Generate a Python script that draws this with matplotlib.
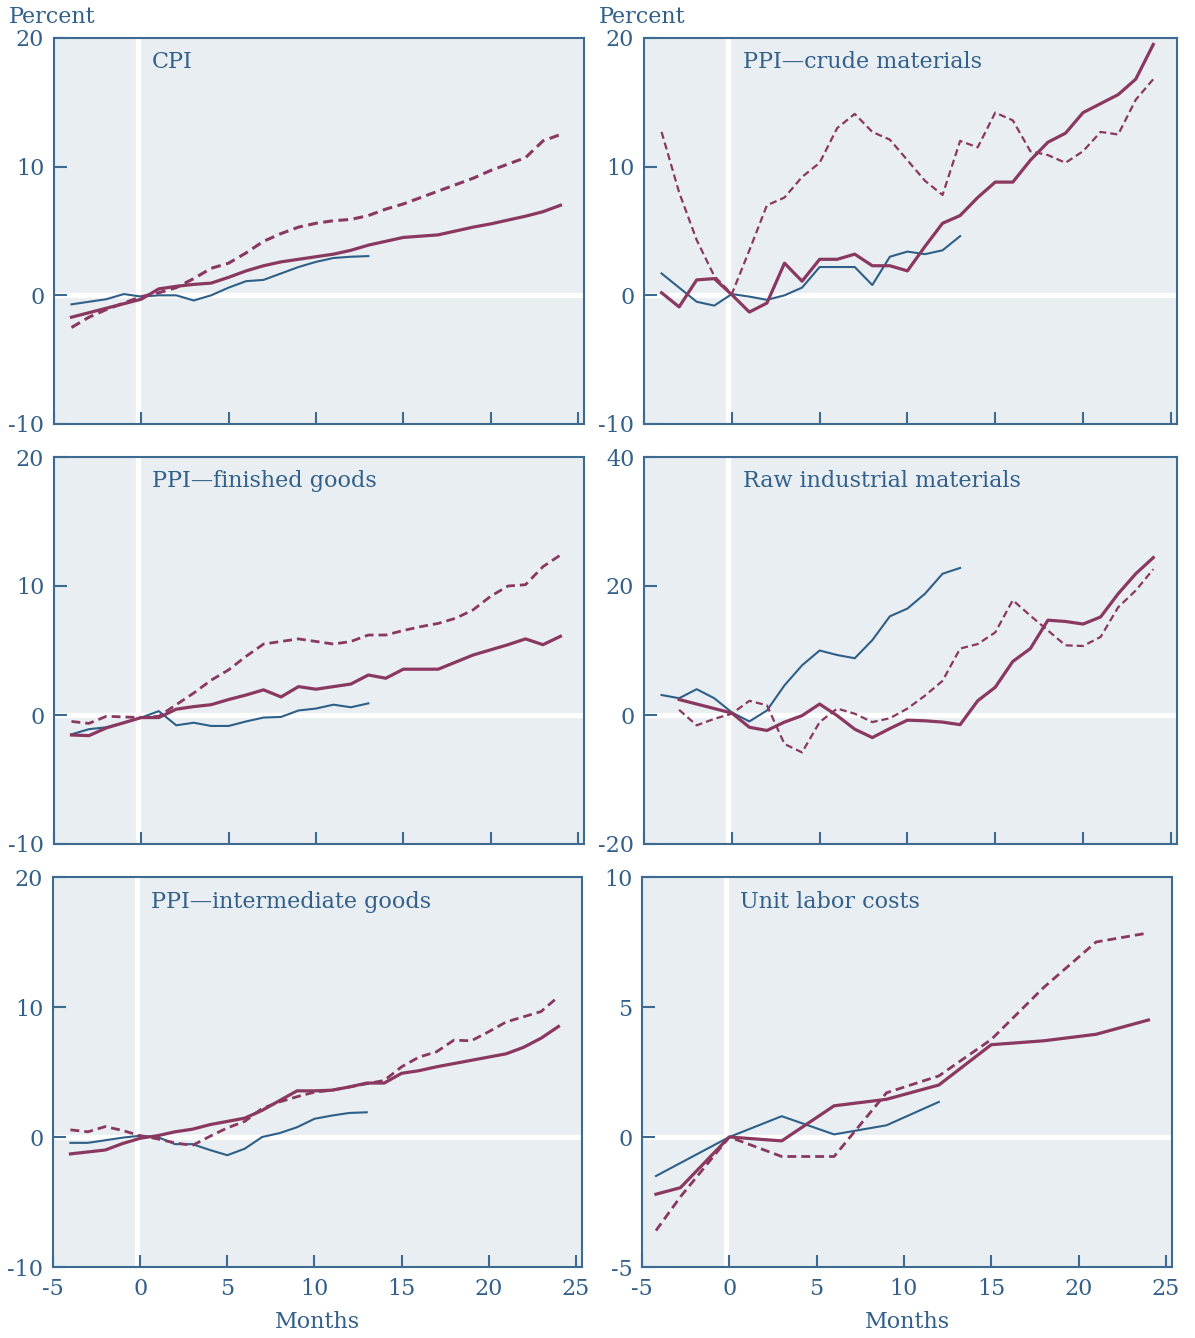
import numpy as np
import matplotlib
matplotlib.use("Agg")
import matplotlib.pyplot as plt

# ---------------------------------------------------------------------------
# Data: cumulative percent change, months relative to the reference month (0)
# ---------------------------------------------------------------------------
months_red = list(range(-4, 25))
months_blue = list(range(-4, 14))
months_raw_red = list(range(-3, 25))
quarters_ulc = [-4.2, -2.8, 0, 3, 6, 9, 12, 15, 18, 21, 24]
quarters_ulc_blue = [-4.2, -2.8, 0, 3, 6, 9, 12]

# CPI
cpi_solid = [-1.7, -1.35, -1.0, -0.65, -0.3, 0.5, 0.7, 0.85, 0.95, 1.4, 1.9, 2.3, 2.6,
             2.8, 3.0, 3.2, 3.5, 3.9, 4.2, 4.5, 4.6, 4.7, 5.0, 5.3, 5.55, 5.85, 6.15,
             6.5, 7.0]
cpi_dashed = [-2.5, -1.7, -1.1, -0.6, -0.1, 0.2, 0.6, 1.3, 2.1, 2.5, 3.3, 4.2, 4.8, 5.3,
              5.6, 5.8, 5.9, 6.2, 6.7, 7.1, 7.6, 8.1, 8.6, 9.1, 9.7, 10.2, 10.7, 12.0,
              12.5]
cpi_blue = [-0.7, -0.5, -0.3, 0.1, -0.1, 0.0, 0.0, -0.4, 0.0, 0.6, 1.1, 1.2, 1.7, 2.2,
            2.6, 2.9, 3.0, 3.05]

# PPI - crude materials
crude_solid = [0.2, -0.9, 1.2, 1.3, 0.05, -1.3, -0.6, 2.5, 1.1, 2.8, 2.8, 3.2, 2.3, 2.3,
               1.9, 3.8, 5.6, 6.2, 7.6, 8.8, 8.8, 10.5, 11.9, 12.6, 14.2, 14.9, 15.6,
               16.8, 19.5]
crude_dashed = [12.7, 8.0, 4.3, 1.5, 0.1, 3.5, 7.0, 7.6, 9.2, 10.3, 13.0, 14.1, 12.7,
                12.1, 10.5, 8.9, 7.8, 12.0, 11.5, 14.2, 13.6, 11.2, 10.9, 10.3, 11.2,
                12.7, 12.5, 15.2, 16.8]
crude_blue = [1.7, 0.6, -0.5, -0.8, 0.1, -0.1, -0.35, 0.0, 0.6, 2.2, 2.2, 2.2, 0.8, 3.0,
              3.4, 3.2, 3.5, 4.6]

# PPI - finished goods
fin_solid = [-1.55, -1.6, -1.0, -0.6, -0.2, -0.2, 0.45, 0.65, 0.8, 1.2, 1.55, 1.95, 1.4,
             2.2, 2.0, 2.2, 2.4, 3.1, 2.85, 3.55, 3.55, 3.55, 4.1, 4.65, 5.05, 5.45,
             5.9, 5.45, 6.1]
fin_dashed = [-0.5, -0.65, -0.1, -0.15, -0.2, -0.1, 0.8, 1.7, 2.7, 3.5, 4.55, 5.5, 5.7,
              5.9, 5.7, 5.5, 5.7, 6.2, 6.2, 6.55, 6.85, 7.1, 7.5, 8.15, 9.2, 10.0, 10.1,
              11.5, 12.4]
fin_blue = [-1.5, -1.1, -0.95, -0.6, -0.2, 0.3, -0.8, -0.6, -0.85, -0.85, -0.5, -0.2,
            -0.15, 0.35, 0.5, 0.8, 0.6, 0.9]

# Raw industrial materials
raw_solid = [2.4, 1.7, 1.0, 0.3, -1.9, -2.4, -1.1, -0.1, 1.7, -0.1, -2.2, -3.5, -2.1,
             -0.8, -0.9, -1.1, -1.5, 2.2, 4.3, 8.3, 10.3, 14.7, 14.5, 14.1, 15.2, 18.8,
             21.9, 24.4]
raw_dashed = [0.8, -1.6, -0.6, 0.2, 2.2, 1.5, -4.5, -5.8, -1.1, 1.0, 0.2, -1.1, -0.5,
              1.0, 3.0, 5.3, 10.3, 11.0, 12.8, 17.8, 15.4, 13.1, 10.8, 10.7, 12.1, 16.7,
              19.3, 22.6]
raw_blue = [3.1, 2.6, 4.0, 2.6, 0.4, -1.0, 0.7, 4.6, 7.7, 10.0, 9.3, 8.8, 11.6, 15.3,
            16.5, 18.8, 21.9, 22.8]

# PPI - intermediate goods
int_solid = [-1.3, -1.15, -1.0, -0.5, -0.1, 0.1, 0.4, 0.6, 0.95, 1.2, 1.45, 2.05, 2.8,
             3.55, 3.55, 3.6, 3.85, 4.15, 4.15, 4.9, 5.1, 5.4, 5.65, 5.9, 6.15, 6.4,
             6.9, 7.6, 8.5]
int_dashed = [0.55, 0.4, 0.8, 0.5, 0.1, -0.15, -0.45, -0.65, 0.05, 0.7, 1.2, 2.2, 2.7,
              3.1, 3.45, 3.6, 3.85, 4.1, 4.35, 5.4, 6.15, 6.55, 7.45, 7.4, 8.1, 8.85,
              9.25, 9.65, 10.8]
int_blue = [-0.45, -0.45, -0.25, -0.05, 0.1, 0.0, -0.55, -0.55, -1.0, -1.4, -0.9, 0.0,
            0.3, 0.75, 1.4, 1.65, 1.85, 1.9]

# Unit labor costs (quarterly)
ulc_solid = [-2.2, -1.95, 0.0, -0.15, 1.2, 1.45, 2.0, 3.55, 3.7, 3.95, 4.5]
ulc_dashed = [-3.6, -2.3, 0.0, -0.75, -0.75, 1.7, 2.35, 3.75, 5.75, 7.5, 7.85]
ulc_blue = [-1.5, -1.0, 0.0, 0.8, 0.1, 0.45, 1.35]

# ---------------------------------------------------------------------------
# Styling
# ---------------------------------------------------------------------------
RED = "#8a3860"
BLUE = "#2e5f88"
TEXT = "#33608a"
SPINE = "#3c6a90"
FACE = "#e8eef1"
FONT = ["DejaVu Serif"]
FS = 16

plt.rcParams["font.family"] = FONT
plt.rcParams["axes.unicode_minus"] = False

fig = plt.figure(figsize=(11.95, 13.38), dpi=100, facecolor="white")

W, H = 1195, 1338


def box(left, right, top, bottom):
    return [left / W, 1 - bottom / H, (right - left) / W, (bottom - top) / H]


panels = [
    dict(rect=box(54, 584, 38, 424), title="CPI", ylim=(-10, 20), yticks=[-10, 0, 10, 20],
         x=(months_red, months_red, months_blue),
         y=(cpi_solid, cpi_dashed, cpi_blue), percent=True, bottom=False, dash_lw=2.2),
    dict(rect=box(644, 1177, 38, 424), title="PPI\u2014crude materials", ylim=(-10, 20),
         yticks=[-10, 0, 10, 20], x=(months_red, months_red, months_blue),
         y=(crude_solid, crude_dashed, crude_blue), percent=True, bottom=False, dash_lw=1.6),
    dict(rect=box(54, 584, 457, 844), title="PPI\u2014finished goods", ylim=(-10, 20),
         yticks=[-10, 0, 10, 20], x=(months_red, months_red, months_blue),
         y=(fin_solid, fin_dashed, fin_blue), percent=False, bottom=False, dash_lw=2.0),
    dict(rect=box(644, 1177, 457, 844), title="Raw industrial materials", ylim=(-20, 40),
         yticks=[-20, 0, 20, 40], x=(months_raw_red, months_raw_red, months_blue),
         y=(raw_solid, raw_dashed, raw_blue), percent=False, bottom=False, dash_lw=1.6),
    dict(rect=box(53, 582, 877, 1267), title="PPI\u2014intermediate goods", ylim=(-10, 20),
         yticks=[-10, 0, 10, 20], x=(months_red, months_red, months_blue),
         y=(int_solid, int_dashed, int_blue), percent=False, bottom=True, dash_lw=2.0),
    dict(rect=box(642, 1172, 877, 1267), title="Unit labor costs", ylim=(-5, 10),
         yticks=[-5, 0, 5, 10], x=(quarters_ulc, quarters_ulc, quarters_ulc_blue),
         y=(ulc_solid, ulc_dashed, ulc_blue), percent=False, bottom=True, dash_lw=2.0),
]

for p in panels:
    ax = fig.add_axes(p["rect"])
    ax.set_facecolor(FACE)
    ax.set_xlim(-5, 25.35)
    ax.set_ylim(*p["ylim"])

    # white reference cross at zero
    ax.axhline(0, color="white", lw=3.8, zorder=1)
    ax.axvline(-0.2, color="white", lw=3.8, zorder=1)

    xs, ys = p["x"], p["y"]
    ax.plot(xs[2], ys[2], color=BLUE, lw=1.5, zorder=3)
    ax.plot(xs[1], ys[1], color=RED, lw=p["dash_lw"], ls=(0, (3.2, 1.8)), zorder=4)
    ax.plot(xs[0], ys[0], color=RED, lw=2.3, zorder=5, solid_joinstyle="round")

    for s in ax.spines.values():
        s.set_color(SPINE)
        s.set_linewidth(1.5)

    ax.set_yticks(p["yticks"])
    ax.set_yticklabels([str(v) for v in p["yticks"]])
    ax.tick_params(axis="y", direction="in", length=9, width=1.5, color=SPINE,
                   labelsize=FS, labelcolor=TEXT, pad=7)
    ax.set_xticks([-5, 0, 5, 10, 15, 20, 25])
    ax.tick_params(axis="x", direction="in", length=9, width=1.5, color=SPINE,
                   labelsize=FS, labelcolor=TEXT, pad=8, labelbottom=p["bottom"])
    if p["bottom"]:
        ax.set_xlabel("Months", fontsize=FS, color=TEXT, labelpad=8)

    ax.text(0.185, 0.937, p["title"], transform=ax.transAxes, fontsize=FS,
            color=TEXT, ha="left", va="center")

    if p["percent"]:
        ax.text(-0.085, 1.055, "Percent", transform=ax.transAxes, fontsize=FS,
                color=TEXT, ha="left", va="center")

fig.savefig("out.png", dpi=100, facecolor="white")
